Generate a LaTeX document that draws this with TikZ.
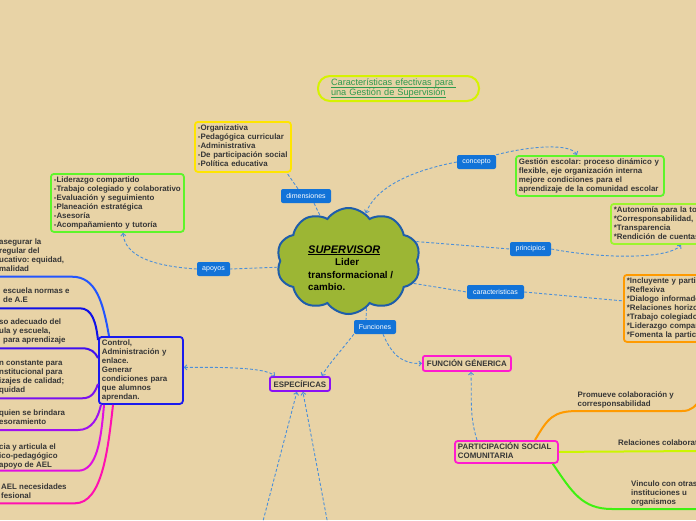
\documentclass[tikz,border=0pt]{standalone}
\usepackage{fontspec}
\setmainfont{Liberation Sans}
\usetikzlibrary{shapes.symbols,arrows.meta}
\frenchspacing
\definecolor{bg}{HTML}{E8D3A6}
\definecolor{txt}{HTML}{363636}
\definecolor{lblue}{HTML}{1273D8}
\definecolor{dcol}{HTML}{4C8FD8}
\definecolor{cloudf}{HTML}{9CB634}
\definecolor{cloudb}{HTML}{1E5DAA}
\definecolor{ttlb}{HTML}{D6F200}
\definecolor{ttlt}{HTML}{2E9A4E}
\definecolor{yel}{HTML}{FFE500}
\definecolor{grn}{HTML}{5EF52A}
\definecolor{limeb}{HTML}{9CF52E}
\definecolor{org}{HTML}{FF9A00}
\definecolor{blu}{HTML}{1A1AEE}
\definecolor{pur}{HTML}{8A10F5}
\definecolor{mag}{HTML}{FF1ACF}
\definecolor{bA}{HTML}{2255FF}
\definecolor{bB}{HTML}{1010E8}
\definecolor{bC}{HTML}{4010F0}
\definecolor{bD}{HTML}{7A10F0}
\definecolor{bE}{HTML}{A010F0}
\definecolor{bF}{HTML}{E010E0}
\definecolor{bG}{HTML}{FF10B0}
\definecolor{rA}{HTML}{FF9A00}
\definecolor{rB}{HTML}{CCF500}
\definecolor{rC}{HTML}{40F010}
\newsavebox\ulbox
\newcommand\ulx[1]{\sbox\ulbox{#1}\rlap{\rule[-1.6pt]{\wd\ulbox}{0.6pt}}\usebox\ulbox}
\newcommand\tl[1]{\begin{tabular}[t]{@{}l@{}}#1\end{tabular}}
\newcommand\bodyf{\fontsize{7.9}{9}\selectfont\bfseries}
\newcommand\lblf{\fontsize{7}{8}\selectfont}
\begin{document}
\begin{tikzpicture}[x=1pt,y=-1pt,
  box/.style={draw=#1, line width=1.8pt, rounded corners=3pt, anchor=north west, inner xsep=3pt, inner ysep=1pt, align=left, font=\bodyf, text=txt},
  tagbox/.style={draw=#1, line width=1.8pt, rounded corners=2pt, anchor=north west, inner sep=1pt, font=\bodyf, text=txt},
  lbl/.style={fill=lblue, text=white, rounded corners=2pt, font=\lblf, minimum height=14pt, inner xsep=2pt, inner ysep=0pt},
  conn/.style={draw=dcol, line width=0.9pt, dash pattern=on 3pt off 2pt},
  arrowed/.style={conn, -{Straight Barb[length=2.5pt,width=5pt]}},
  both/.style={conn, {Straight Barb[length=2.5pt,width=5pt]}-{Straight Barb[length=2.5pt,width=5pt]}},
  branch/.style={draw=#1, line width=2pt},
  ltext/.style={anchor=base west, inner sep=0pt, font=\bodyf, text=txt}]
\path[use as bounding box, fill=bg] (0,0) rectangle (696,520);

% title
\node[draw=ttlb, line width=2pt, rounded corners=12pt, anchor=north west, text width=135pt, inner xsep=13pt, inner ysep=1pt, minimum height=25pt, align=left, font=\fontsize{9.2}{10}\selectfont, text=ttlt] (title) at (317,75)
  {\tl{\ulx{Características efectivas para\ }\\\ulx{una Gestión de Supervisión}}};

% cloud
\node[cloud, cloud puffs=10, cloud puff arc=110, aspect=1.35, draw=cloudb, fill=cloudf, line width=2pt, minimum width=144pt, minimum height=106pt, inner sep=0pt] (sup) at (348.5,261) {};
\node[anchor=base west, inner sep=0pt, font=\fontsize{9.8}{12.6}\selectfont\bfseries, text=black] (suptxt) at (308,253)
  {\tl{{\fontsize{11}{12.6}\selectfont\underline{\textit{SUPERVISOR}}}\\\hspace*{27pt}Lider\\transformacional /\\cambio.}};

% boxes
\node[box=yel, text width=90pt, minimum height=50pt] (dimbox) at (194,121)
  {\tl{-Organizativa\\-Pedagógica curricular\\-Administrativa\\-De participación social\\-Política educativa}};
\node[box=grn, text width=127pt, minimum height=58pt] (apbox) at (50,173)
  {\tl{-Liderazgo compartido\\-Trabajo colegiado y colaborativo\\-Evaluación y seguimiento\\-Planeación estratégica\\-Asesoría\\-Acompañamiento y tutoría}};
\node[box=grn, text width=142pt, minimum height=40pt] (conbox) at (515,155)
  {\tl{Gestión escolar: proceso dinámico y\\flexible, eje organización interna\\mejore condiciones para el\\aprendizaje de la comunidad escolar}};
\node[box=limeb, text width=130pt, minimum height=40pt] (prinbox) at (610,203)
  {\tl{{*}Autonomía para la toma de decisiones\\{*}Corresponsabilidad, participación\\{*}Transparencia\\{*}Rendición de cuentas}};
\node[box=org, text width=130pt, minimum height=67pt] (carbox) at (623,274)
  {\tl{{*}Incluyente y participativa\\{*}Reflexiva\\{*}Dialogo informado\\{*}Relaciones horizontales\\{*}Trabajo colegiado\\{*}Liderazgo compartido\\{*}Fomenta la participación}};
\node[box=blu, text width=78pt, minimum height=67pt] (ctrlbox) at (98,336)
  {\tl{Control,\\Administración y\\enlace.\\Generar\\condiciones para\\que alumnos\\aprendan.}};
\node[box=mag, text width=97pt, minimum height=22pt] (pscbox) at (454,440)
  {\tl{PARTICIPACIÓN SOCIAL\\COMUNITARIA}};
\node[tagbox=pur, minimum width=60pt, minimum height=14pt] (espbox) at (269,376) {ESPECÍFICAS};
\node[tagbox=mag, minimum width=88pt, minimum height=15pt] (fgbox) at (422,355) {FUNCIÓN GÉNERICA};

% labels
\node[lbl, minimum width=50pt] (dimlbl) at (306,196) {dimensiones};
\node[lbl, minimum width=39pt] (conlbl) at (476.5,162) {concepto};
\node[lbl, minimum width=41pt] (prlbl) at (530.5,249) {principios};
\node[lbl, minimum width=57pt] (carlbl) at (495.5,292) {caracteristicas};
\node[lbl, minimum width=33pt] (aplbl) at (213.5,269) {apoyos};
\node[lbl, minimum width=42pt] (funlbl) at (375,327) {Funciones};

% left texts
\node[ltext] (t1) at (-1,244.2) {\tl{asegurar la\\regular del\\ucativo: equidad,\\malidad}};
\node[ltext] (t2) at (3,293.2) {\tl{escuela normas e\\de A.E}};
\node[ltext] (t3) at (-1,324.2) {\tl{so adecuado del\\ula y escuela,\\\hspace*{4pt}para aprendizaje}};
\node[ltext] (t4) at (-1,365.8) {\tl{n constante para\\nstitucional para\\izajes de calidad;\\quidad}};
\node[ltext] (t5) at (-1,415.8) {\tl{quien se brindara\\esoramiento}};
\node[ltext] (t6) at (-1,449.2) {\tl{cia y articula el\\ico-pedagógico\\apoyo de AEL}};
\node[ltext] (t7) at (1,489.2) {\tl{AEL necesidades\\fesional}};

% right texts
\node[ltext] (r1) at (577.5,397.5) {\tl{Promueve colaboración y\\corresponsabilidad}};
\node[ltext] (r2) at (618,445.8) {Relaciones colaborativas};
\node[ltext] (r3) at (631,486.8) {\tl{Vinculo con otras\\instituciones u\\organismos}};

% free ends
\coordinate (s1) at (-5,276.7);
\coordinate (s2) at (-5,308.3);
\coordinate (s3) at (-5,348.3);
\coordinate (s4) at (-5,398.3);
\coordinate (s5) at (-5,430);
\coordinate (s6) at (-5,470.7);
\coordinate (s7) at (-5,503.3);
\coordinate (oe) at (702,398);
\coordinate (le) at (702,451);
\coordinate (ge) at (702,509);
\coordinate (e1) at (262,525);
\coordinate (e2) at (328,525);

% left branches
\draw[branch=bA] (s1) -- (72,276.7) .. controls (96,276.7) and (103,302) .. ([xshift=11pt]ctrlbox.north west);
\draw[branch=bB] (s2) -- (80,308.3) .. controls (92,308.3) and (96,322) .. ([yshift=-4pt]ctrlbox.north west);
\draw[branch=bC] (s3) -- (82,348.3) .. controls (91,348.3) and (95,352) .. ([yshift=-22pt]ctrlbox.north west);
\draw[branch=bD] (s4) -- (82,398.3) .. controls (92,398.3) and (95,392) .. ([yshift=-48pt]ctrlbox.north west);
\draw[branch=bE] (s5) -- (78,430) .. controls (92,430) and (98,418) .. ([xshift=3pt]ctrlbox.south west);
\draw[branch=bF] (s6) -- (78,470.7) .. controls (97,470.7) and (101,440) .. ([xshift=6pt]ctrlbox.south west);
\draw[branch=bG] (s7) -- (75,503.3) .. controls (102,503.3) and (108,450) .. ([xshift=15pt]ctrlbox.south west);

% right branches
\draw[branch=rA] ([xshift=81pt]pscbox.north west) .. controls (548,418) and (553,411) .. (578,411) -- (682,411) .. controls (692,411) and (695,406) .. (oe);
\draw[branch=rB] (pscbox.east) -- (le);
\draw[branch=rC] ([xshift=-6pt]pscbox.south east) .. controls (572,492) and (582,509) .. (612,509) -- (ge);

% dashed connectors
\draw[conn] ([xshift=-8pt]dimlbl.north) -- ([xshift=-5pt]dimbox.south east);
\draw[conn] ([xshift=8pt]dimlbl.south) -- (sup.122);
\draw[arrowed] (conlbl.west) .. controls (425,168) and (378,182) .. (sup.70);
\draw[arrowed] (conlbl.north east) .. controls (530,146) and (570,143) .. ([xshift=62pt]conbox.north west);
\draw[conn] (sup.16) -- (prlbl.west);
\draw[arrowed] (prlbl.east) .. controls (610,260) and (670,258) .. ([xshift=71pt]prinbox.south west);
\draw[conn] (sup.-19) -- (carlbl.west);
\draw[conn] (carlbl.east) -- ([yshift=7.5pt]carbox.west);
\draw[conn] (sup.185) -- (aplbl.east);
\draw[arrowed] (aplbl.west) .. controls (150,266) and (125,255) .. ([xshift=73pt]apbox.south west);
\draw[conn] (sup.-69) -- ([xshift=-9pt]funlbl.north);
\draw[arrowed] (funlbl.south west) .. controls (340,352) and (328,365) .. ([xshift=-9pt]espbox.north east);
\draw[arrowed] ([xshift=8pt]funlbl.south) .. controls (392,355) and (402,364) .. (fgbox.west);
\draw[arrowed] ([xshift=23pt]pscbox.north west) .. controls (469,415) and (472,395) .. ([xshift=4pt]fgbox.south);
\draw[both] ([yshift=3pt]ctrlbox.east) .. controls (230,367) and (265,368) .. ([xshift=6pt]espbox.north west);
\draw[arrowed] (e1) -- ([xshift=-3pt]espbox.south);
\draw[arrowed] (e2) -- ([xshift=3pt]espbox.south);
\end{tikzpicture}
\end{document}
